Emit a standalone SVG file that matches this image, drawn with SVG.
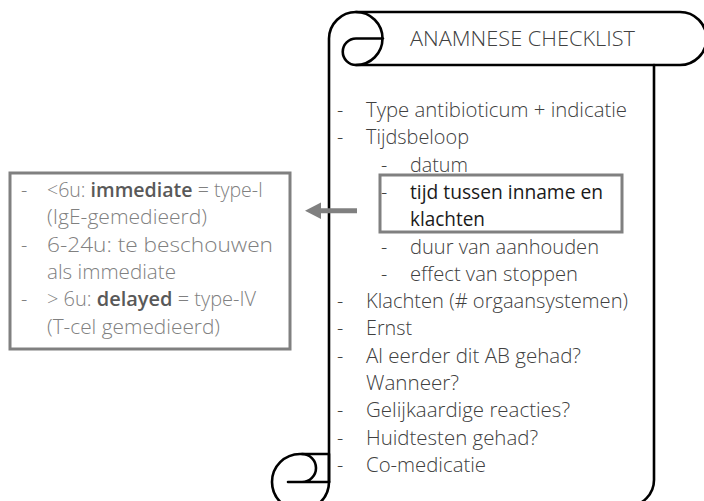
<svg xmlns="http://www.w3.org/2000/svg" width="704" height="501" viewBox="0 0 704 501">
<style>
.scroll{fill:#fff;stroke:#000;stroke-width:2.6;stroke-linejoin:round;stroke-linecap:round}
.line{fill:none;stroke:#000;stroke-width:2.6;stroke-linecap:round}
.t{font-family:"Open Sans","Noto Sans","DejaVu Sans",sans-serif;font-size:19.5px;font-weight:300;fill:#404040}
.hl{fill:#1a1a1a;font-weight:400}
.g{font-family:"Open Sans","Noto Sans","DejaVu Sans",sans-serif;font-size:19.5px;font-weight:300;fill:#808080}
.b{font-weight:600;fill:#595959}
.box{fill:none;stroke:#808080;stroke-width:3}
</style>
<rect width="704" height="501" fill="#fff"/>
<g id="scroll">
  <path class="scroll" d="M329,482 L329,38.5 A27,27 0 0 1 356,12 L680,12 A26.5,26.5 0 0 1 680,65 L654,65 L654,480 A26,26 0 0 1 628,506 L300,510 A28,28 0 0 1 300,454 L329,454 Z"/>
  <path class="line" d="M356,12 A26.5,26.5 0 0 1 356,65 A13.25,13.25 0 0 1 356,38.5 L383,38.5"/>
  <path class="line" d="M654,65 L356,65"/>
  <path class="line" d="M302,454 A14,14 0 0 1 302,482 M288,482 L329,482"/>
  <path class="line" d="M329,482 A28,28 0 0 1 300,510"/>
  <line class="line" x1="329" y1="454" x2="329" y2="482"/>
  <text class="t" x="410" y="46" textLength="225" lengthAdjust="spacingAndGlyphs">ANAMNESE CHECKLIST</text>
  <text class="t" x="337" y="117">-</text>
  <text class="t" x="366" y="117" textLength="261" lengthAdjust="spacingAndGlyphs">Type antibioticum + indicatie</text>
  <text class="t" x="337" y="144.3">-</text>
  <text class="t" x="366" y="144.3" textLength="103" lengthAdjust="spacingAndGlyphs">Tijdsbeloop</text>
  <text class="t" x="381" y="171.6">-</text>
  <text class="t" x="410" y="171.6" textLength="58" lengthAdjust="spacingAndGlyphs">datum</text>
  <text class="t" x="381" y="198.9">-</text>
  <text class="t" x="381" y="253.5">-</text>
  <text class="t" x="410" y="253.5" textLength="189" lengthAdjust="spacingAndGlyphs">duur van aanhouden</text>
  <text class="t" x="381" y="280.8">-</text>
  <text class="t" x="410" y="280.8" textLength="168" lengthAdjust="spacingAndGlyphs">effect van stoppen</text>
  <text class="t" x="337" y="308.1">-</text>
  <text class="t" x="366" y="308.1" textLength="262" lengthAdjust="spacingAndGlyphs">Klachten (# orgaansystemen)</text>
  <text class="t" x="337" y="335.4">-</text>
  <text class="t" x="366" y="335.4" textLength="46" lengthAdjust="spacingAndGlyphs">Ernst</text>
  <text class="t" x="337" y="362.7">-</text>
  <text class="t" x="366" y="362.7" textLength="215" lengthAdjust="spacingAndGlyphs">Al eerder dit AB gehad?</text>
  <text class="t" x="366" y="390" textLength="93" lengthAdjust="spacingAndGlyphs">Wanneer?</text>
  <text class="t" x="337" y="417.3">-</text>
  <text class="t" x="366" y="417.3" textLength="204" lengthAdjust="spacingAndGlyphs">Gelijkaardige reacties?</text>
  <text class="t" x="337" y="444.6">-</text>
  <text class="t" x="366" y="444.6" textLength="172" lengthAdjust="spacingAndGlyphs">Huidtesten gehad?</text>
  <text class="t" x="337" y="471.9">-</text>
  <text class="t" x="366" y="471.9" textLength="120" lengthAdjust="spacingAndGlyphs">Co-medicatie</text>
</g>
<g id="highlight">
  <rect class="box" x="380" y="175" width="242" height="57"/>
  <text class="t hl" x="410" y="198.9" textLength="193" lengthAdjust="spacingAndGlyphs">tijd tussen inname en</text>
  <text class="t hl" x="410" y="226.2" textLength="75" lengthAdjust="spacingAndGlyphs">klachten</text>
</g>
<g id="timing">
  <rect class="box" x="10" y="173" width="280" height="176"/>
  <text class="g" x="21" y="197">-</text>
  <text class="g" x="47" y="197" textLength="216" lengthAdjust="spacingAndGlyphs">&lt;6u: <tspan class="b">immediate</tspan> = type-I</text>
  <text class="g" x="47" y="224.3" textLength="160" lengthAdjust="spacingAndGlyphs">(IgE-gemedieerd)</text>
  <text class="g" x="21" y="251.6">-</text>
  <text class="g" x="47" y="251.6" textLength="226" lengthAdjust="spacingAndGlyphs">6-24u: te beschouwen</text>
  <text class="g" x="47" y="278.9" textLength="129" lengthAdjust="spacingAndGlyphs">als immediate</text>
  <text class="g" x="21" y="306.2">-</text>
  <text class="g" x="47" y="306.2" textLength="209" lengthAdjust="spacingAndGlyphs">&gt; 6u: <tspan class="b">delayed</tspan> = type-IV</text>
  <text class="g" x="47" y="333.5" textLength="173" lengthAdjust="spacingAndGlyphs">(T-cel gemedieerd)</text>
</g>
<g id="connectors">
  <line x1="357" y1="210.7" x2="318" y2="210.7" stroke="#808080" stroke-width="5"/>
  <polygon points="305,210.7 321,202.5 321,219" fill="#808080"/>
</g>
</svg>
